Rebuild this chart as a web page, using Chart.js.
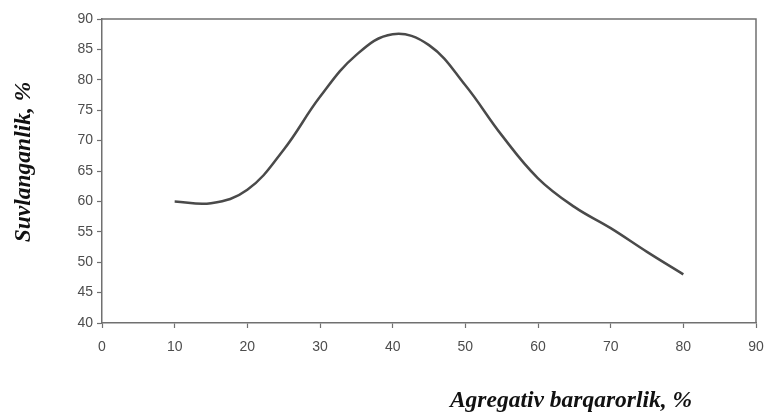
<!DOCTYPE html>
<html>
<head>
<meta charset="utf-8">
<script src="https://cdn.jsdelivr.net/npm/chart.js@4/dist/chart.umd.min.js"></script>
<style>
  html, body { margin: 0; padding: 0; background: #ffffff; }
  #wrap { width: 765px; height: 412px; position: relative; }
</style>
</head>
<body>
<div id="wrap"><canvas id="c" width="765" height="412"></canvas></div>
<script>
const xValues = [10, 15, 20, 25, 30, 35, 40, 45, 50, 55, 60, 65, 70, 75, 80];
const yValues = [60, 59.7, 61.9, 68.5, 77.2, 84.1, 87.5, 85.7, 79.1, 70.9, 63.8, 59.1, 55.6, 51.7, 48];
const xTitle = 'Agregativ barqarorlik, %';
const yTitle = 'Suvlanganlik, %';

const points = xValues.map((x, i) => ({ x: x, y: yValues[i] }));

const frameAndTitles = {
  id: 'frameAndTitles',
  afterDraw(chart) {
    const ctx = chart.ctx;
    const a = chart.chartArea;
    ctx.save();
    ctx.strokeStyle = '#707070';
    ctx.lineWidth = 1.5;
    ctx.beginPath();
    ctx.moveTo(a.left, a.top);
    ctx.lineTo(a.right, a.top);
    ctx.lineTo(a.right, a.bottom);
    ctx.stroke();
    ctx.fillStyle = '#111';
    ctx.font = 'italic bold 23.5px "Liberation Serif", "DejaVu Serif", serif';
    ctx.textAlign = 'center';
    ctx.textBaseline = 'middle';
    ctx.fillText(xTitle, 571, 401);
    ctx.translate(24, 162);
    ctx.rotate(-Math.PI / 2);
    ctx.fillText(yTitle, 0, 0);
    ctx.restore();
  }
};

new Chart(document.getElementById('c'), {
  type: 'scatter',
  data: {
    datasets: [{
      data: points,
      showLine: true,
      borderColor: '#4a4a4a',
      borderWidth: 2.5,
      pointRadius: 0,
      tension: 0.4,
      fill: false
    }]
  },
  options: {
    responsive: false,
    animation: false,
    devicePixelRatio: 1,
    layout: { padding: { left: 0, right: 9, top: 19, bottom: 0 } },
    plugins: { legend: { display: false }, tooltip: { enabled: false } },
    scales: {
      x: {
        type: 'linear',
        min: 0, max: 90,
        ticks: { stepSize: 10, color: '#4d4d4d', padding: 11, font: { family: 'Arial, "Liberation Sans", sans-serif', size: 14 } },
        grid: { display: true, drawOnChartArea: false, drawTicks: true, tickLength: 5, tickColor: '#707070', tickWidth: 1.2 },
        border: { display: true, color: '#707070', width: 1.5 },
        afterFit(s) { s.height = 89; s.paddingLeft = 0; s.paddingRight = 0; }
      },
      y: {
        type: 'linear',
        min: 40, max: 90,
        ticks: { stepSize: 5, color: '#4d4d4d', padding: 4, font: { family: 'Arial, "Liberation Sans", sans-serif', size: 14 } },
        grid: { display: true, drawOnChartArea: false, drawTicks: true, tickLength: 5, tickColor: '#707070', tickWidth: 1.2 },
        border: { display: true, color: '#707070', width: 1.5 },
        afterFit(s) { s.width = 102; s.paddingTop = 0; s.paddingBottom = 0; }
      }
    }
  },
  plugins: [frameAndTitles]
});
</script>
</body>
</html>
